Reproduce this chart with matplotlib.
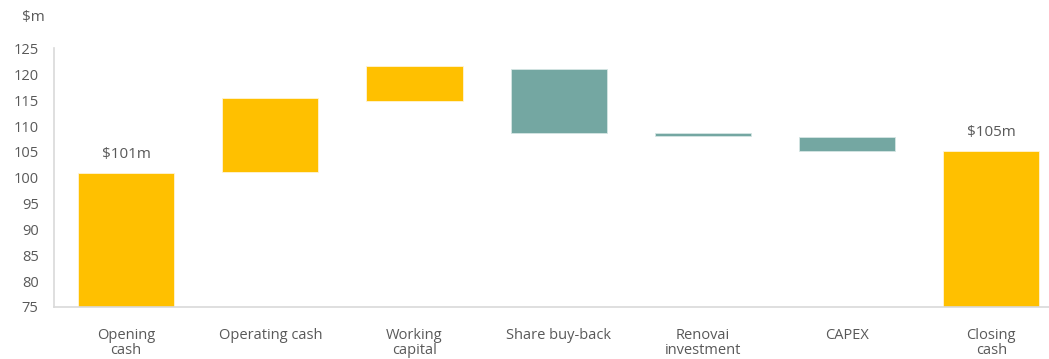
import matplotlib
matplotlib.use("Agg")
import matplotlib.pyplot as plt

# waterfall values ($m)
categories = ["Opening\ncash", "Operating cash", "Working\ncapital", "Share buy-back",
              "Renovai\ninvestment", "CAPEX", "Closing\ncash"]
bar_start = [75.0, 101.2, 114.8, 121.0, 108.6, 107.9, 75.0]
bar_end = [101.0, 115.4, 121.6, 108.7, 108.1, 105.2, 105.2]
bar_kind = ["total", "up", "up", "down", "down", "down", "total"]
value_labels = {0: "$101m", 6: "$105m"}

y_ticks = [75, 80, 85, 90, 95, 100, 105, 110, 115, 120, 125]

YELLOW = "#FFC000"
TEAL = "#74A7A2"
TEXT = "#595959"
colors = {"total": YELLOW, "up": YELLOW, "down": TEAL}

plt.rcParams["font.family"] = ["Open Sans", "DejaVu Sans"]

fig = plt.figure(figsize=(10.49, 3.59), dpi=100)
ax = fig.add_axes([0.0515, 0.145, 0.9485, 0.72])

for i, (lo, hi, kind) in enumerate(zip(bar_start, bar_end, bar_kind)):
    b0, b1 = min(lo, hi), max(lo, hi)
    ax.bar(i, b1 - b0, bottom=b0, width=0.667, color=colors[kind],
           edgecolor="#FFF4D6" if colors[kind] == YELLOW else "#D5E6E4",
           linewidth=0.6, zorder=2)

for i, txt in value_labels.items():
    ax.text(i, bar_end[i] + 2.0, txt, ha="center", va="bottom",
            fontsize=11, color=TEXT)

ax.set_xlim(-0.5, 6.4)
ax.set_ylim(75, 125)
ax.set_yticks(y_ticks)
ax.set_xticks(range(len(categories)))
ax.set_xticklabels(categories, fontsize=10.5, color=TEXT, linespacing=1.05, va="top")
ax.tick_params(axis="x", length=0, pad=15)
ax.tick_params(axis="y", length=0, pad=11, labelsize=10.5, labelcolor=TEXT)
for lbl in ax.get_yticklabels():
    lbl.set_horizontalalignment("right")

for side in ["top", "right"]:
    ax.spines[side].set_visible(False)
ax.spines["left"].set_color("#D9D9D9")
ax.spines["bottom"].set_color("#D9D9D9")
ax.spines["left"].set_linewidth(1.2)
ax.spines["bottom"].set_linewidth(1.2)

fig.text(0.021, 0.952, "$m", fontsize=11, color=TEXT, ha="left", va="center")

fig.savefig("out.png", dpi=100)
